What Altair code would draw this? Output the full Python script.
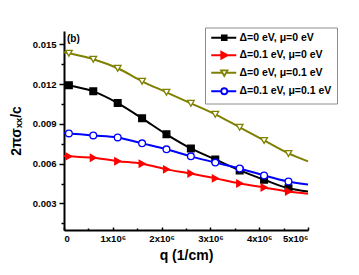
import altair as alt
import pandas as pd

# ---------------- data ----------------
series = ["Δ=0 eV, μ=0 eV", "Δ=0.1 eV, μ=0 eV", "Δ=0 eV, μ=0.1 eV", "Δ=0.1 eV, μ=0.1 eV"]
colors = ["#000000", "#ff0000", "#808000", "#0000ff"]
marker_shapes = ["square", "triangle-right", "triangle-down", "circle"]
marker_fills = ["#000000", "#ff0000", "#ffffff", "#ffffff"]

# q in 1/cm; first and last entries are line ends (no marker)
q = [0, 1e5, 6e5, 1.1e6, 1.6e6, 2.1e6, 2.6e6, 3.1e6, 3.6e6, 4.1e6, 4.6e6, 5.0e6]
has_marker = [False, True, True, True, True, True, True, True, True, True, True, False]

black = [0.01200, 0.01191, 0.01145, 0.01057, 0.00942, 0.00821, 0.00715, 0.00632, 0.00549, 0.00479, 0.00414, 0.00390]
red   = [0.00658, 0.00655, 0.00645, 0.00619, 0.00600, 0.00557, 0.00526, 0.00489, 0.00451, 0.00421, 0.00390, 0.00373]
olive = [0.01440, 0.01432, 0.01387, 0.01319, 0.01221, 0.01138, 0.01055, 0.00972, 0.00874, 0.00775, 0.00677, 0.00617]
blue  = [0.00830, 0.00828, 0.00813, 0.00798, 0.00753, 0.00708, 0.00655, 0.00608, 0.00564, 0.00511, 0.00466, 0.00443]

x_ticks = [0, 500000, 1000000, 1500000, 2000000, 2500000, 3000000, 3500000, 4000000, 4500000, 5000000]
y_ticks = [0.0015, 0.003, 0.0045, 0.006, 0.0075, 0.009, 0.0105, 0.012, 0.0135, 0.015]

# legend symbols: line segment with the marker in the middle (custom SVG paths)
legend_symbols = [
    "M-1,0H5.25M1.65,-0.6H2.85V0.6H1.65Z",
    "M-1,0H5.25M1.5,-0.85L3.1,0L1.5,0.85Z",
    "M-1,0H1.79M2.71,0H5.25M1.45,-0.6H3.05L2.25,0.8Z",
    "M-1,0H1.5M3,0H5.25M3,0A0.75,0.75,0,1,1,1.5,0A0.75,0.75,0,1,1,3,0Z",
]

rows = []
for name, vals in zip(series, [black, red, olive, blue]):
    for qq, v, m in zip(q, vals, has_marker):
        rows.append({"series": name, "q": qq, "v": v, "marker": m})
df = pd.DataFrame(rows)

FONT = "Liberation Sans"
W, H = 244, 199

xs = alt.Scale(domain=[0, 5000000], nice=False, zero=False)
ys = alt.Scale(domain=[0.001, 0.016], nice=False, zero=False)

major_y = "abs(datum.value*1000/3 - round(datum.value*1000/3)) < 0.01"
major_x = "abs(datum.value/1000000 - round(datum.value/1000000)) < 0.01"

y_axis = alt.Axis(
    values=y_ticks,
    labelExpr=f"{major_y} ? format(datum.value, '.3f') : ''",
    tickSize={"condition": {"test": major_y, "value": 5}, "value": 3},
    tickWidth=1.5, tickColor="black",
    domainWidth=2, domainColor="black",
    labelFont=FONT, labelFontSize=9.5, labelFontWeight="bold", labelColor="black",
    labelPadding=3,
    title="2πσₓₓ/c", titleFont=FONT, titleFontSize=14, titleFontWeight="bold",
    titleColor="black", titlePadding=9, grid=False,
)

x_axis_bottom = alt.Axis(
    values=x_ticks,
    labelExpr=f"{major_x} ? (datum.value == 0 ? '0' : format(datum.value/1000000, 'd') + 'x10⁶') : ''",
    ticks=False, domainWidth=2, domainColor="black",
    labelFont=FONT, labelFontSize=9.5, labelFontWeight="bold", labelColor="black",
    labelPadding=3,
    title="q (1/cm)", titleFont=FONT, titleFontSize=14, titleFontWeight="bold",
    titleColor="black", titlePadding=6, grid=False,
)

x_axis_ticks_in = alt.Axis(
    orient="top", offset=-H, values=x_ticks, labels=False, domain=False,
    tickSize={"condition": {"test": major_x, "value": 3}, "value": 2},
    tickWidth=1.5, tickColor="black", title=None, grid=False,
)

X_main = alt.X("q:Q", scale=xs, axis=x_axis_bottom)
Y_main = alt.Y("v:Q", scale=ys, axis=y_axis)

base = alt.Chart(df)

inner_layers = []
for name, col, shp, fil in zip(series, colors, marker_shapes, marker_fills):
    sub = base.transform_filter(alt.datum.series == name)
    inner_layers.append(
        sub.mark_line(color=col, strokeWidth=2, interpolate="monotone").encode(x=X_main, y=Y_main)
    )
    inner_layers.append(
        sub.transform_filter(alt.datum.marker).mark_point(
            shape=shp, size=45, stroke=col, fill=fil, filled=False,
            fillOpacity=1, strokeWidth=1.3, opacity=1,
        ).encode(x=X_main, y=Y_main)
    )

label_df = pd.DataFrame({"label": ["(b)"]})
panel_label = alt.Chart(label_df).mark_text(
    align="left", baseline="middle", font=FONT, fontSize=10, fontWeight="bold", color="black"
).encode(text="label:N", x=alt.value(3), y=alt.value(7.5))
inner_layers.append(panel_label)

inner = alt.layer(*inner_layers)

leg = alt.Legend(
    orient="none", legendX=141, legendY=-3.5, title=None,
    padding=5, strokeColor="#8c8c8c", fillColor="white",
    symbolSize=64, symbolStrokeWidth=1.8, symbolOpacity=1,
    labelFont=FONT, labelFontSize=10.5, labelFontWeight="bold", labelColor="black",
    labelOffset=19, rowPadding=3.5,
)

legend_layer = base.transform_filter("false").mark_point(filled=False).encode(
    x=alt.X("q:Q", scale=xs, axis=x_axis_ticks_in),
    y=Y_main,
    shape=alt.Shape("series:N", scale=alt.Scale(domain=series, range=legend_symbols), legend=leg),
    stroke=alt.Stroke("series:N", scale=alt.Scale(domain=series, range=colors), legend=leg),
    fill=alt.Fill("series:N", scale=alt.Scale(domain=series, range=marker_fills), legend=leg),
)

chart = alt.layer(inner, legend_layer).resolve_axis(x="independent").properties(
    width=W, height=H,
    padding={"left": 1, "top": 19, "right": 5, "bottom": 0},
    background="white",
).configure_view(stroke=None)

chart.save("out.html", embed_options={"renderer": "svg", "actions": False})
